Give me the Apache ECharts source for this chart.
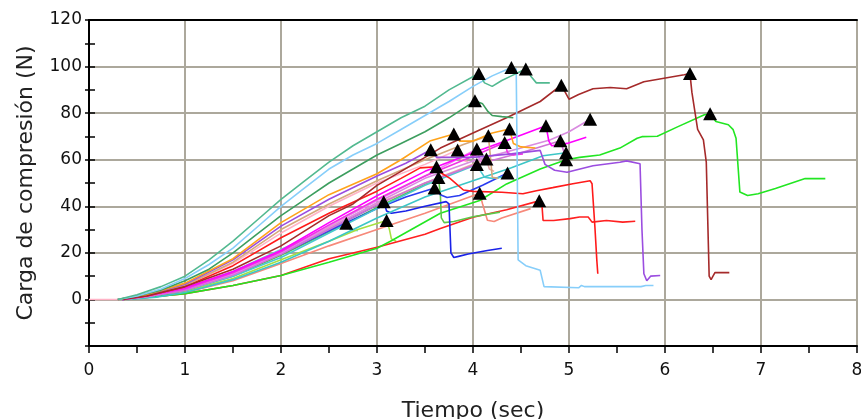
<!DOCTYPE html>
<html>
<head>
<meta charset="utf-8">
<title>Carga de compresión</title>
<script src="https://cdn.jsdelivr.net/npm/echarts/dist/echarts.min.js"></script>
<style>
  html, body { margin: 0; padding: 0; background: #fff; }
  #chart { width: 861px; height: 419px; }
</style>
</head>
<body>
<div id="chart"></div>
<script>
// Compression load curves, one array of [time (s), load (N)] per specimen.
const teal = [[0.3,0],[0.5,2],[0.75,5.5],[1,10],[1.25,17],[1.5,25],[1.75,34],[2,43],[2.25,51],[2.5,59],[2.75,66],[3,72],[3.25,78],[3.5,83],[3.75,90],[4.06,97],[4.12,93],[4.2,91.5],[4.3,94],[4.4,96],[4.5,98],[4.55,99],[4.6,96],[4.66,93],[4.8,93]];
const lightBlue = [[0.3,0],[0.5,1.5],[0.75,4.5],[1,9],[1.25,15],[1.5,22],[1.75,31],[2,40],[2.25,48],[2.5,56],[2.75,62],[3,67],[3.25,73],[3.5,79],[3.75,85],[4,91.5],[4.2,96],[4.4,99.6],[4.45,99],[4.46,60],[4.47,17],[4.55,14.5],[4.7,12.5],[4.74,5.5],[5.1,5],[5.13,6],[5.16,5.5],[5.75,5.5],[5.8,6],[5.88,6]];
const seaGreen = [[0.3,0],[0.5,1.5],[0.75,4],[1,8],[1.25,13],[1.5,20],[1.75,28],[2,36],[2.25,43],[2.5,50],[2.75,56],[3,62],[3.25,67],[3.5,72],[3.75,78],[4.02,85.3],[4.1,84],[4.15,81],[4.2,79],[4.3,78.5],[4.42,78]];
const brown = [[0.35,0],[0.6,1.5],[1,5.5],[1.5,13],[2,23],[2.5,36],[2.75,41],[3,49],[3.25,55],[3.5,61],[3.66,65],[4,71.5],[4.35,78],[4.7,85],[4.92,92],[4.96,89],[5,86],[5.1,88],[5.25,90.5],[5.43,91],[5.6,90.5],[5.78,93.5],[5.99,95],[6.2,96.5],[6.26,97],[6.28,89],[6.34,73],[6.4,68.5],[6.43,59],[6.46,10],[6.48,8.5],[6.52,11.5],[6.67,11.5]];
const orange = [[0.3,0],[0.6,2],[1,7],[1.5,17.5],[2,33],[2.5,45],[3,54],[3.25,60],[3.55,68],[3.8,71],[3.86,68],[4,68],[4.2,71.5],[4.38,73.2],[4.42,67],[4.5,65.5],[4.65,65]];
const purple = [[0.3,0],[0.6,2],[1,6.5],[1.5,17],[2,31.5],[2.5,43],[3,53],[3.3,58.5],[3.56,64.3],[3.62,61],[4,61],[4.4,62.5],[4.7,64],[4.75,58],[4.85,55.5],[4.98,54.6],[5.25,57.4],[5.53,58.9],[5.6,59.5],[5.74,58.3],[5.76,30],[5.78,11],[5.81,8],[5.85,10],[5.95,10.3]];
const tan = [[0.3,0],[0.6,2],[1,6],[1.5,16],[2,30],[2.5,41],[3,51],[3.5,60],[3.9,66.5],[4.16,70.3],[4.18,62],[4.2,52.5],[4.26,52]];
const redUpper = [[0.3,0],[0.6,1.5],[1,5.5],[1.5,14.5],[2,26.5],[2.5,37],[3,46.5],[3.25,52],[3.45,56.5],[3.62,57],[3.66,54.5],[3.76,52],[3.9,47],[4,46.4],[4.3,46],[4.52,45.4],[4.66,46.7],[4.83,48],[5.04,49.7],[5.22,51],[5.24,49.7],[5.27,31],[5.29,16.7],[5.3,11]];
const magenta = [[0.35,0],[0.6,1.5],[1,5],[1.5,12],[2,21],[2.5,33],[3,44.5],[3.5,55],[4,63],[4.4,69],[4.76,74.6],[4.79,68],[4.82,66],[4.98,67],[5.18,69.6]];
const magenta2 = [[0.35,0],[0.6,1.5],[1,4.5],[1.5,11.5],[2,20.5],[2.5,32],[3,43],[3.5,53],[4,61.5],[4.33,67.4],[4.36,63],[4.42,62],[4.52,62.5]];
const violet = [[0.35,0],[0.6,1.5],[1,4.5],[1.5,11],[2,20],[2.5,31.5],[3,42.5],[3.5,53],[4.04,64.6],[4.07,60],[4.12,58],[4.2,58.5]];
const pink = [[0,0],[0.3,0],[0.6,2],[1,6],[1.5,15.5],[2,28.5],[2.5,40],[3,50],[3.5,58],[3.84,64.2],[3.88,60],[3.95,59]];
const orchid = [[0.35,0],[0.6,1.2],[1,4],[1.5,10.5],[2,19.5],[2.5,30],[3,40.5],[3.5,50],[4,57.5],[4.5,63],[4.91,68.1],[4.95,63],[5,62]];
const plum = [[0.35,0],[0.6,1.2],[1,4],[1.5,10.5],[2,19.5],[2.5,30.5],[3,41.5],[3.5,52],[4,59.5],[4.5,65],[4.8,68.5],[5,72],[5.22,77.4]];
const cyan = [[0.35,0],[0.6,1.2],[1,4],[1.5,10],[2,18],[2.5,28.5],[3,39],[3.5,49],[4.04,57.9],[4.08,55],[4.12,52.5],[4.2,52],[4.4,53]];
const turquoise = [[0.4,0],[0.7,1],[1,3],[1.5,8.5],[2,16],[2.5,25],[3,35],[3.5,44],[4,51],[4.4,56.5],[4.73,61.7],[4.97,63]];
const rosy = [[0.35,0],[0.6,1.3],[1,4.5],[1.5,11.5],[2,21],[2.5,31],[3,41],[3.5,50],[4.14,60.3],[4.17,56],[4.22,55]];
const blueA = [[0.35,0],[0.6,1.2],[1,4],[1.5,10.5],[2,19.5],[2.5,29.5],[3,39],[3.3,44],[3.6,47.9],[3.66,45],[3.73,43.8],[3.86,44.6],[4.1,49],[4.36,54.3]];
const blueB = [[0.35,0],[0.6,1.2],[1,4.2],[1.5,11],[2,20],[2.5,30],[3,40.5],[3.07,42],[3.1,38],[3.15,37],[3.3,38],[3.5,40],[3.72,42],[3.75,41],[3.77,20],[3.8,18],[3.85,18.5],[3.95,19.5],[4.15,21],[4.3,22]];
const midGreen = [[0.35,0],[0.6,1.2],[1,4],[1.5,10],[2,19],[2.5,29],[3,39.5],[3.3,45.5],[3.64,52.4],[3.66,45],[3.67,35],[3.7,33],[3.8,33.5],[4,35.5],[4.28,37.5]];
const salmon = [[0.35,0],[0.6,1],[1,3],[1.5,8],[2,15.4],[2.5,23],[3,30],[3.5,37],[4.07,45.6],[4.1,41],[4.15,34],[4.22,33.5],[4.3,35],[4.6,39]];
const yellowGreen = [[0.35,0],[0.6,1],[1,3.5],[1.5,9],[2,17],[2.5,25],[2.8,30],[3.1,33.9],[3.13,30],[3.15,26],[3.2,25]];
const aqua = [[0.35,0],[0.6,1.2],[1,4.5],[1.5,12],[2,21.5],[2.4,29],[2.68,32.7],[2.72,30],[2.8,29.5]];
const redLower = [[0.35,0],[0.6,0.8],[1,2.5],[1.5,6],[2,10.3],[2.5,17.5],[3,22.4],[3.5,28],[3.66,30.5],[4,35.3],[4.35,38.5],[4.66,42],[4.69,42.4],[4.72,39.6],[4.73,33.9],[4.84,33.9],[5.01,34.7],[5.11,35.4],[5.2,35.4],[5.24,33.2],[5.39,33.9],[5.56,33.2],[5.69,33.6]];
const green = [[0.35,0],[0.6,0.8],[1,2.5],[1.5,6],[2,10.3],[2.5,16],[3,22],[3.14,25],[3.66,37],[4.07,42.5],[4.35,49.6],[4.7,56],[4.97,60],[5.11,61],[5.32,62],[5.53,65],[5.71,69.2],[5.76,69.9],[5.92,70.1],[6.13,74.1],[6.41,79.3],[6.47,79.7],[6.53,76.4],[6.66,75],[6.71,72.9],[6.74,69.2],[6.78,46.1],[6.86,44.6],[6.97,45.4],[7.15,47.6],[7.46,51.9],[7.57,51.9],[7.67,51.9]];

// Failure points marked with a triangle, [time, load].
const failures = [[4.06,97],[4.4,99.6],[4.55,99],[4.92,92],[4.02,85.3],[5.22,77.4],[3.8,71],[4.38,73.2],[4.16,70.3],[4.76,74.6],[3.56,64.3],[3.84,64.2],[4.04,64.6],[4.33,67.4],[4.91,68.1],[4.97,63],[4.97,60],[3.62,57],[4.04,57.9],[4.14,60.3],[4.36,54.3],[3.64,52.4],[3.6,47.9],[4.07,45.6],[4.69,42.4],[3.07,42],[3.1,33.9],[2.68,32.7],[6.26,97],[6.47,79.7]];

const xTicks = [0, 8, 1];       // min, max, step
const yTicks = [-20, 120, 20];  // min, max, step

const curves = [
  [pink, '#ffb3c6'], [aqua, '#5fd3d3'], [yellowGreen, '#a6e040'], [salmon, '#f7897a'],
  [redLower, '#ff2020'], [green, '#22e622'], [midGreen, '#5cc84a'], [blueB, '#1a22e8'],
  [blueA, '#2a3cf0'], [rosy, '#e8a8a8'], [turquoise, '#3cc6c6'], [cyan, '#48c8d0'],
  [plum, '#d98be0'], [orchid, '#cf73d6'], [violet, '#ee82ee'], [magenta2, '#f032e6'],
  [magenta, '#ff00ff'], [redUpper, '#ff1a1a'], [tan, '#d6a87c'], [purple, '#9b4de0'],
  [orange, '#ffa31a'], [brown, '#a52a2a'], [seaGreen, '#3d9e5f'], [lightBlue, '#87cefa'],
  [teal, '#52b990']
];

const gridColor = '#aca89c';
const font = 'DejaVu Sans';

const series = curves.map(([data, color]) => ({
  type: 'line', data, showSymbol: false, symbol: 'none',
  lineStyle: { color, width: 1.6 }, xAxisIndex: 0, yAxisIndex: 0, z: 3
}));
series.push({
  type: 'scatter', data: failures, symbol: 'triangle', symbolSize: [14, 13],
  itemStyle: { color: '#000', opacity: 1 }, xAxisIndex: 0, yAxisIndex: 0, z: 5
});

const chart = echarts.init(document.getElementById('chart'), null, { renderer: 'canvas' });
chart.setOption({
  animation: false,
  backgroundColor: '#fff',
  grid: { left: 89, right: 4, top: 20, bottom: 73, containLabel: false, outerBoundsMode: 'none' },
  xAxis: [{
    type: 'value', min: xTicks[0], max: xTicks[1], interval: xTicks[2],
    name: 'Tiempo (sec)', nameLocation: 'middle', nameGap: 54,
    nameTextStyle: { fontFamily: font, fontSize: 22, color: '#222' },
    axisLine: { show: true, onZero: false, lineStyle: { color: '#000', width: 2 } },
    axisTick: { show: true, inside: false, length: 7, lineStyle: { color: '#000', width: 1.5 } },
    minorTick: { show: true, splitNumber: 2, length: 7, lineStyle: { color: '#000', width: 1.5 } },
    axisLabel: { fontFamily: font, fontSize: 17, color: '#111', margin: 16 },
    splitLine: { show: true, lineStyle: { color: gridColor, width: 2 } }
  }, {
    type: 'value', position: 'top', min: xTicks[0], max: xTicks[1], interval: xTicks[2],
    axisLine: { show: true, onZero: false, lineStyle: { color: '#000', width: 2 } },
    axisTick: { show: false }, axisLabel: { show: false }, splitLine: { show: false }
  }],
  yAxis: [{
    type: 'value', min: yTicks[0], max: yTicks[1], interval: yTicks[2],
    name: 'Carga de compresión (N)', nameLocation: 'middle', nameGap: 52, nameRotate: 90,
    nameTextStyle: { fontFamily: font, fontSize: 22, color: '#222' },
    axisLine: { show: true, onZero: false, lineStyle: { color: '#000', width: 2 } },
    axisTick: { show: true, inside: false, length: 4, lineStyle: { color: '#000', width: 1.5 } },
    minorTick: { show: true, splitNumber: 2, length: 4, lineStyle: { color: '#000', width: 1.5 } },
    axisLabel: { fontFamily: font, fontSize: 17, color: '#111', margin: 7,
      formatter: v => (v === yTicks[0] ? '' : String(v)) },
    splitLine: { show: true, lineStyle: { color: gridColor, width: 2 } }
  }, {
    type: 'value', position: 'left', min: yTicks[0], max: yTicks[1], interval: yTicks[2],
    axisLine: { show: false, onZero: false },
    axisTick: { show: true, inside: true, length: 6, lineStyle: { color: '#000', width: 1.5 } },
    minorTick: { show: true, splitNumber: 2, length: 6, lineStyle: { color: '#000', width: 1.5 } },
    axisLabel: { show: false }, splitLine: { show: false }
  }],
  series
});
</script>
</body>
</html>
